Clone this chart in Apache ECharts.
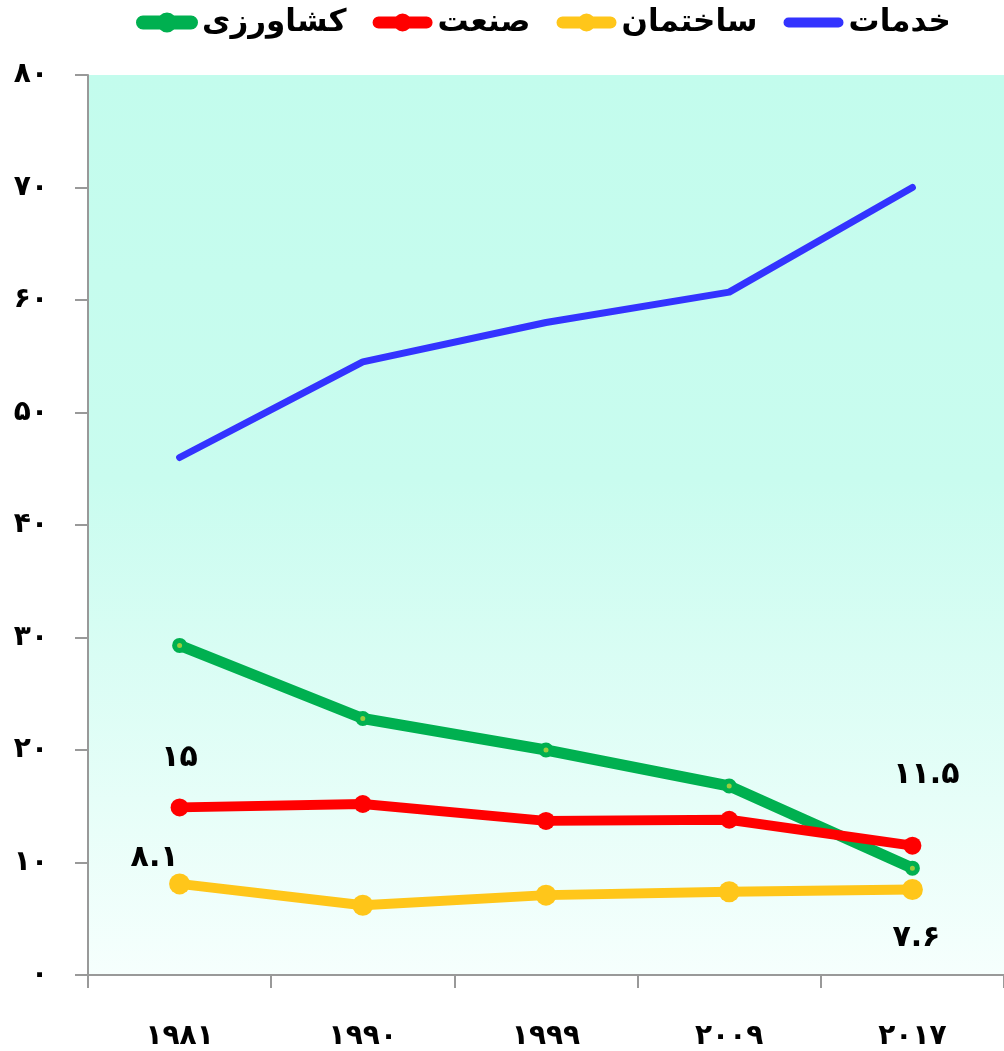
<!DOCTYPE html>
<html>
<head>
<meta charset="utf-8">
<script src="https://cdn.jsdelivr.net/npm/echarts@6/dist/echarts.min.js"></script>
<style>
html,body{margin:0;padding:0;background:#fff;overflow:hidden;}
#c{width:1004px;height:1051px;}
</style>
</head>
<body>
<div id="c"></div>
<script>
// ---- data ----
const categories = ['۱۹۸۱', '۱۹۹۰', '۱۹۹۹', '۲۰۰۹', '۲۰۱۷'];
const yTickLabels = ['۰', '۱۰', '۲۰', '۳۰', '۴۰', '۵۰', '۶۰', '۷۰', '۸۰'];
const seriesNames = ['کشاورزی', 'صنعت', 'ساختمان', 'خدمات'];
const agriculture = [29.3, 22.8, 20.0, 16.8, 9.5];
const industry = [14.9, 15.2, 13.7, 13.8, 11.5];
const construction = [8.1, 6.2, 7.1, 7.4, 7.6];
const services = [46.0, 54.5, 58.0, 60.7, 70.0];
const industryLabels = ['۱۵', null, null, null, '۱۱.۵'];
const constructionLabels = ['۸.۱', null, null, null, '۷.۶'];

// ---- styles ----
const FONT = '"DejaVu Sans", sans-serif';
const industryOffsets = [[0, -49], null, null, null, [14, -70]];
const constructionOffsets = [[-25, -26], null, null, null, [4, 49]];
const colors = ['#00b050', '#ff0000', '#ffc61a', '#3333ff'];
// legend icons: rounded bar with a round marker (box 60 x 18)
const ICON_MARK = 'path://M6,3 L54,3 A6,6 0 0 1 54,15 L6,15 A6,6 0 0 1 6,3 Z M39,9 A9,9 0 1 1 21,9 A9,9 0 1 1 39,9 Z';
const ICON_BAR = 'path://M5,4 L55,4 A5,5 0 0 1 55,14 L5,14 A5,5 0 0 1 5,4 Z M0,0 L0.01,0 L0.01,0.01 Z M60,18 L59.99,18 L59.99,17.99 Z';

function withLabels(values, labels, offsets) {
  return values.map((v, i) => {
    if (labels[i] == null) return v;
    return {
      value: v,
      label: {
        show: true,
        position: 'inside',
        offset: offsets[i],
        formatter: labels[i],
        color: '#000',
        fontSize: 30,
        fontWeight: 'bold',
        fontFamily: FONT
      }
    };
  });
}

const chart = echarts.init(document.getElementById('c'), null, {renderer: 'canvas'});
chart.setOption({
  animation: false,
  backgroundColor: '#ffffff',
  legend: {
    top: 2,
    left: 131,
    itemWidth: 60,
    itemHeight: 18,
    itemGap: 26,
    textStyle: {fontSize: 31, fontWeight: 'bold', color: '#000', fontFamily: FONT},
    data: [
      {name: seriesNames[0], icon: ICON_MARK, itemStyle: {color: colors[0]}},
      {name: seriesNames[1], icon: ICON_MARK, itemStyle: {color: colors[1]}},
      {name: seriesNames[2], icon: ICON_MARK, itemStyle: {color: colors[2]}},
      {name: seriesNames[3], icon: ICON_BAR, itemStyle: {color: colors[3]}}
    ]
  },
  grid: {
    left: 88, width: 920, top: 75, height: 900,
    show: true,
    borderWidth: 0,
    backgroundColor: new echarts.graphic.LinearGradient(0, 0, 0, 1, [
      {offset: 0, color: '#c3fced'},
      {offset: 0.45, color: '#c9fcef'},
      {offset: 1, color: '#f6fffd'}
    ])
  },
  xAxis: {
    type: 'category',
    data: categories,
    boundaryGap: true,
    axisLine: {lineStyle: {color: '#999', width: 2}},
    axisTick: {show: true, length: 13, lineStyle: {color: '#999', width: 2}},
    axisLabel: {margin: 48, fontSize: 28, fontWeight: 'bold', color: '#000', fontFamily: FONT},
    splitLine: {show: false}
  },
  yAxis: {
    type: 'value',
    min: 0, max: 80, interval: 10,
    axisLine: {show: true, lineStyle: {color: '#999', width: 2}},
    axisTick: {show: true, length: 13, lineStyle: {color: '#999', width: 2}},
    axisLabel: {
      margin: 40, fontSize: 28, fontWeight: 'bold', color: '#000', fontFamily: FONT,
      formatter: v => yTickLabels[Math.round(v / 10)]
    },
    splitLine: {show: false}
  },
  series: [
    {
      name: seriesNames[0], type: 'line', data: agriculture,
      symbol: 'circle', symbolSize: 10, showSymbol: true,
      lineStyle: {color: colors[0], width: 11, cap: 'round', join: 'round'},
      itemStyle: {color: '#9ccc3c', borderColor: colors[0], borderWidth: 5},
      z: 3
    },
    {
      name: seriesNames[1], type: 'line', data: withLabels(industry, industryLabels, industryOffsets),
      symbol: 'circle', symbolSize: 18,
      lineStyle: {color: colors[1], width: 10, cap: 'round', join: 'round'},
      itemStyle: {color: colors[1]},
      z: 4
    },
    {
      name: seriesNames[2], type: 'line', data: withLabels(construction, constructionLabels, constructionOffsets),
      symbol: 'circle', symbolSize: 21,
      lineStyle: {color: colors[2], width: 10, cap: 'round', join: 'round'},
      itemStyle: {color: colors[2]},
      z: 2
    },
    {
      name: seriesNames[3], type: 'line', data: services,
      symbol: 'none',
      lineStyle: {color: colors[3], width: 7, cap: 'round', join: 'round'},
      itemStyle: {color: colors[3]},
      z: 2
    }
  ]
});
</script>
</body>
</html>
